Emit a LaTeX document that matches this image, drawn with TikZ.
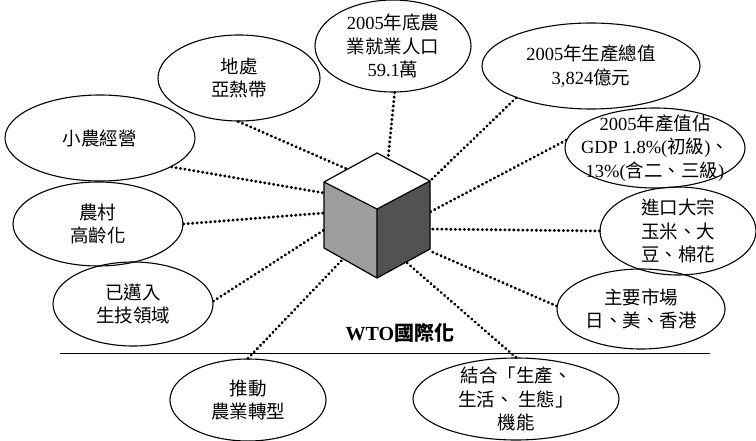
\documentclass[tikz,border=0pt]{standalone}
\usepackage{fontspec}
\setmainfont{Noto Sans CJK TC}
\newfontfamily\lat{Liberation Serif}
\usetikzlibrary{shapes.geometric}
\tikzset{
  bub/.style 2 args={ellipse, draw, line width=1.1pt, minimum width=#1, minimum height=#2, inner sep=0pt},
  txt/.style={align=center, inner sep=0pt, font=\fontsize{18.5}{23.5}\selectfont},
  dotline/.style={line width=3.1pt, line cap=round, dash pattern=on 0.2pt off 4.3pt},
  face/.style={draw, line width=1.2pt, line join=round},
}
\begin{document}
\begin{tikzpicture}[x=1pt,y=-1pt]
\useasboundingbox (0,0) rectangle (756,441);
% cube
\coordinate (T) at (377,153);
\coordinate (L) at (324,182);
\coordinate (R) at (430,181);
\coordinate (C) at (377,209);
\coordinate (BL) at (324,248);
\coordinate (BR) at (430,249);
\coordinate (B) at (377,278);
\fill[black!38] (L) -- (C) -- (B) -- (BL) -- cycle;
\fill[black!68] (C) -- (R) -- (BR) -- (B) -- cycle;
\draw[face] (T) -- (R) -- (BR) -- (B) -- (BL) -- (L) -- cycle;
\draw[face] (L) -- (C) -- (R) (C) -- (B);
% cube connection points
\coordinate (c1) at (347,169);
\coordinate (c2) at (388,159);
\coordinate (c3) at (430,181);
\coordinate (c4) at (430,212);
\coordinate (c5) at (430,229);
\coordinate (c6) at (430,251);
\coordinate (c7) at (406,262);
\coordinate (c8) at (343,259);
\coordinate (c9) at (324,230);
\coordinate (c10) at (324,213);
\coordinate (c11) at (324,193);
% bubbles
\node[bub={162}{86}, label={[txt]center:地處\\亞熱帶}] (e1) at (239,78) {};
\node[bub={156}{92}, label={[txt]center:{\lat 2005}年底農\\業就業人口\\{\lat 59.1}萬}] (e2) at (393,46) {};
\node[bub={218}{86}, label={[txt]center:{\lat 2005}年生產總值\\{\lat 3,824}億元}] (e3) at (591,66) {};
\node[bub={180}{80}, label={[txt]center:{\lat 2005}年產值佔\\{\lat GDP 1.8\%(}初級{\lat )}、\\{\lat 13\%(}含二、三級{\lat )}}] (e4) at (655,148) {};
\node[bub={156}{88}, label={[txt]center:進口大宗\\玉米、大\\豆、棉花}] (e5) at (678,231) {};
\node[bub={168}{80}, label={[txt]center:主要市場\\日、美、香港}] (e6) at (641,309) {};
\node[bub={206}{82}, label={[txt]center:結合「生產、\\生活、\ 生態」\\機能}] (e7) at (516,399) {};
\node[bub={156}{82}, label={[txt]center:推動\\農業轉型}] (e8) at (248,400) {};
\node[bub={160}{84}, label={[txt]center:已邁入\\生技領域}] (e9) at (133,304) {};
\node[bub={170}{84}, label={[txt]center:農村\\高齡化}] (e10) at (98,224) {};
\node[bub={190}{86}, label={[txt]center:小農經營}] (e11) at (100,138) {};
% connectors
\draw[dotline] (e1.-91) -- (c1);
\draw[dotline] (e2.-88) -- (c2);
\draw[dotline] (e3.203) -- (c3);
\draw[dotline] (e4.175) -- (c4);
\draw[dotline] (e5.180) -- (c5);
\draw[dotline] (e6.178) -- (c6);
\draw[dotline] (e7.90) -- (c7);
\draw[dotline] (e8.90) -- (c8);
\draw[dotline] (e9.2) -- (c9);
\draw[dotline] (e10.0) -- (c10);
\draw[dotline] (e11.-22) -- (c11);
% baseline and title
\coordinate (h1) at (60,353);
\coordinate (h2) at (710,353);
\draw[line width=1pt] (h1) -- (h2);
\node[font=\fontsize{20}{22}\selectfont, inner sep=0pt] (wto) at (400,333) {{\lat\bfseries WTO}{\bfseries 國際化}};
\end{tikzpicture}
\end{document}
